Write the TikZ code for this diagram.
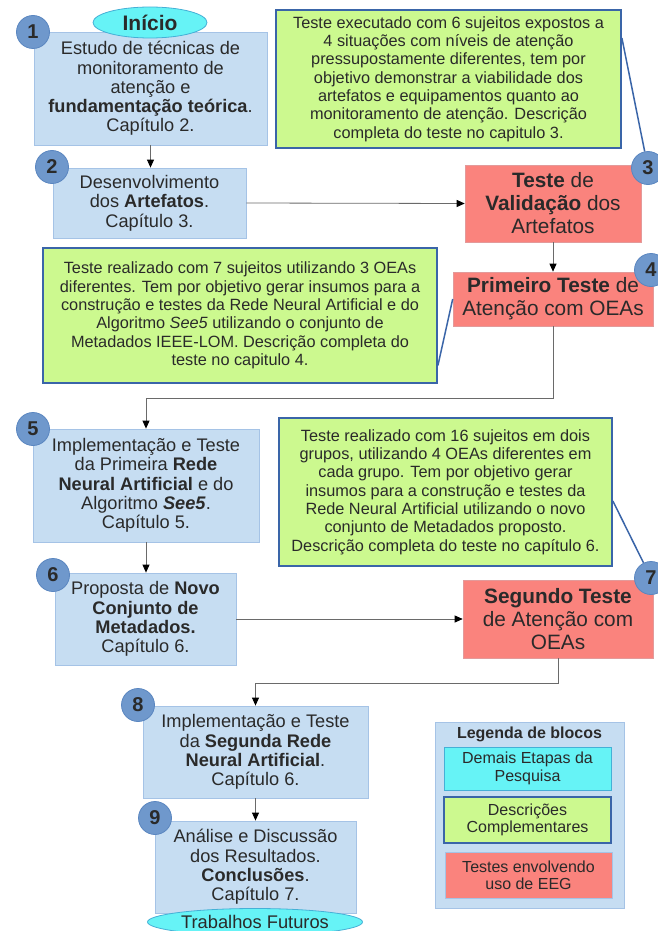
\documentclass[tikz,border=0pt]{standalone}
\usepackage{fontspec}
\setmainfont{Liberation Sans}
\usetikzlibrary{arrows.meta,shapes.geometric,calc}

\definecolor{stepfill}{HTML}{C6DDF2}
\definecolor{stepline}{HTML}{A5C3E6}
\definecolor{termfill}{HTML}{66F3F6}
\definecolor{termline}{HTML}{45B0D6}
\definecolor{notefill}{HTML}{CCF98F}
\definecolor{noteline}{HTML}{3A65A8}
\definecolor{testfill}{HTML}{FA837D}
\definecolor{testline}{HTML}{E39A9A}
\definecolor{badgefill}{HTML}{6F98CC}
\definecolor{badgeline}{HTML}{5A86C0}
\definecolor{flowgray}{HTML}{6A6A6A}
\definecolor{txt}{HTML}{2A2A2A}

\newcommand\fsz[2]{\fontsize{#1}{#2}\selectfont}

\tikzset{
  stepbox/.style={draw=stepline, fill=stepfill, line width=0.8pt, align=center,
    inner sep=0pt, text=txt, font=\fsz{18.2}{19.3}},
  notebox/.style={draw=noteline, fill=notefill, line width=1.8pt, align=center,
    inner sep=0pt, text=txt, font=\fsz{16.3}{18.3}},
  testbox/.style={draw=testline, fill=testfill, line width=0.6pt, align=center,
    inner sep=0pt, text=txt, font=\fsz{20.8}{23}},
  badge/.style={circle, draw=badgeline, fill=badgefill, line width=0.8pt,
    minimum size=33pt, inner sep=0pt, text=txt, font=\fsz{20}{20}\bfseries},
  terminal/.style={ellipse, draw=termline, fill=termfill, line width=0.8pt,
    inner sep=0pt, text=txt},
  flow/.style={draw=flowgray, line width=0.8pt,
    -{Triangle[length=8pt,width=7pt,color=black]}},
  callout/.style={draw=noteline, line width=1.5pt},
  legendbox/.style={draw=stepline, fill=stepfill, line width=0.8pt},
  legenditem/.style={align=center, inner sep=0pt, text=txt,
    minimum width=167pt, font=\fsz{16}{17.3}},
}

\begin{document}
\begin{tikzpicture}[x=1pt,y=-1pt]
\useasboundingbox (0,0) rectangle (658,931);
\clip (0,0) rectangle (658,931);
\fill[white] (0,0) rectangle (658,931);

% ---- explanatory notes (green) ----
\node[notebox, minimum width=345pt, minimum height=138pt] (g3) at (448.5,79)
  {Teste executado com 6 sujeitos expostos a\\
   4 situações com níveis de atenção\\
   pressupostamente diferentes, tem por\\
   objetivo demonstrar a viabilidade dos\\
   artefatos e equipamentos quanto ao\\
   monitoramento de atenção. Descrição\\
   completa do teste no capitulo 3.};

\node[notebox, minimum width=394pt, minimum height=135pt] (g4) at (240,315.5)
  {Teste realizado com 7 sujeitos utilizando 3 OEAs\\
   diferentes. Tem por objetivo gerar insumos para a\\
   construção e testes da Rede Neural Artificial e do\\
   Algoritmo \textit{See5} utilizando o conjunto de\\
   Metadados IEEE-LOM. Descrição completa do\\
   teste no capitulo 4.};

\node[notebox, minimum width=333pt, minimum height=148pt] (g7) at (445.5,492)
  {Teste realizado com 16 sujeitos em dois\\
   grupos, utilizando 4 OEAs diferentes em\\
   cada grupo. Tem por objetivo gerar\\
   insumos para a construção e testes da\\
   Rede Neural Artificial utilizando o novo\\
   conjunto de Metadados proposto.\\
   Descrição completa do teste no capítulo 6.};

% ---- research steps (blue) ----
\node[stepbox, minimum width=233pt, minimum height=113pt] (b1) at (150.5,88.5)
  {Estudo de técnicas de\\monitoramento de\\atenção e\\
   \textbf{fundamentação teórica}.\\Capítulo 2.};
\node[stepbox, minimum width=193pt, minimum height=70pt] (b2) at (149.5,203)
  {Desenvolvimento\\dos \textbf{Artefatos}.\\Capítulo 3.};
\node[stepbox, minimum width=226pt, minimum height=113pt] (b5) at (146,485.5)
  {Implementação e Teste\\da Primeira \textbf{Rede}\\
   \textbf{Neural Artificial} e do\\Algoritmo \textbf{\textit{See5}}.\\Capítulo 5.};
\node[stepbox, minimum width=181pt, minimum height=92pt] (b6) at (145.5,619)
  {Proposta de \textbf{Novo}\\\textbf{Conjunto de}\\\textbf{Metadados.}\\Capítulo 6.};
\node[stepbox, minimum width=225pt, minimum height=92pt] (b8) at (255.5,752)
  {Implementação e Teste\\da \textbf{Segunda Rede}\\\textbf{Neural Artificial}.\\Capítulo 6.};
\node[stepbox, minimum width=201pt, minimum height=92pt] (b9) at (255.5,867)
  {Análise e Discussão\\dos Resultados.\\\textbf{Conclusões}.\\Capítulo 7.};

% ---- EEG tests (red) ----
\node[testbox, minimum width=176pt, minimum height=77pt] (b3) at (553,203.5)
  {\textbf{Teste} de\\\textbf{Validação} dos\\Artefatos};
\node[testbox, minimum width=200pt, minimum height=54pt] (b4) at (553,299)
  {\textbf{Primeiro Teste} de\\Atenção com OEAs};
\node[testbox, minimum width=190pt, minimum height=78pt] (b7) at (558,619)
  {\textbf{Segundo Teste}\\de Atenção com\\OEAs};

% ---- start / end ----
\node[terminal, minimum width=114pt, minimum height=31pt, font=\fsz{21}{21}\bfseries]
  (ini) at (150,22.5) {Início};
\node[terminal, minimum width=215pt, minimum height=27pt, font=\fsz{18.3}{18.3}]
  (fim) at (255,922) {Trabalhos Futuros};

% ---- flow ----
\coordinate (k45) at (553,398);
\coordinate (k78) at (558,683);
\draw[flow] (b1.south) -- (b1.south |- b2.north);
\draw[flow] (b2.east) -- (b3.west);
\draw[flow] (b3.south) -- (b4.north);
\draw[flow] (b4.south) -- (k45) -| (b5.north);
\draw[flow] (b5.south) -- (b5.south |- b6.north);
\draw[flow] (b6.east) -- (b7.west);
\draw[flow] (b7.south) -- (k78) -| (b8.north);
\draw[flow] (b8.south) -- (b8.south |- b9.north);

% ---- step numbers ----
\node[badge] (c1) at (33,32) {1};
\node[badge] (c2) at (52,167) {2};
\node[badge] (c3) at (648,168) {3};
\node[badge] (c4) at (651,270) {4};
\node[badge] (c5) at (33,429) {5};
\node[badge] (c6) at (53,575) {6};
\node[badge] (c7) at (651,578) {7};
\node[badge] (c8) at (138,705) {8};
\node[badge] (c9) at (155,818) {9};

% ---- note callouts ----
\draw[callout] ([yshift=41pt]g3.east) -- (c3);
\draw[callout] ([yshift=-50pt]g4.east) -- (b4.west);
\draw[callout] ([yshift=-9pt]g7.east) -- (c7);

% ---- legend ----
\node[legendbox, minimum width=189pt, minimum height=186pt] (lg) at (529.5,815) {};
\node[legenditem, font=\fsz{16}{17.3}\bfseries] (lgt) at (529.5,734) {Legenda de blocos};
\node[legenditem, draw=termline, fill=termfill, line width=0.8pt, minimum height=43pt]
  (lg1) at (527.5,768.5) {Demais Etapas da\\Pesquisa};
\node[legenditem, draw=noteline, fill=notefill, line width=1.8pt, minimum height=46pt]
  (lg2) at (527.5,820) {Descrições\\Complementares};
\node[legenditem, draw=stepline, fill=testfill, line width=0.8pt, minimum height=46pt]
  (lg3) at (528.5,875) {Testes envolvendo\\uso de EEG};
\end{tikzpicture}
\end{document}
